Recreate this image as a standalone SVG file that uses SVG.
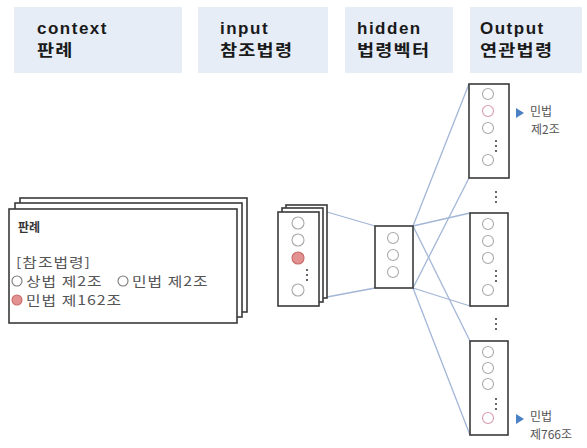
<svg xmlns="http://www.w3.org/2000/svg" width="587" height="448" viewBox="0 0 587 448">
<style>
.hdr{fill:#e6edf7}
.ht{font-family:"Liberation Sans","Noto Sans CJK KR",sans-serif;font-weight:bold;font-size:17px;fill:#1a1a1a;letter-spacing:1.5px}
.hk{font-family:"Noto Sans CJK KR",sans-serif;font-weight:bold;font-size:15.5px;fill:#1a1a1a;letter-spacing:1px}
.box{fill:#fff;stroke:#3a3a3a;stroke-width:1.6}
.nd{fill:#fff;stroke:#a9a9a9;stroke-width:1.1}
.nd2{fill:#fff;stroke:#7a7a7a;stroke-width:1.1}
.pk{fill:#fff;stroke:#d79bb0;stroke-width:1.1}
.red{fill:#e39191;stroke:#c86a6a;stroke-width:1.1}
.dot{fill:#444}
.con{stroke:#a3b6d6;stroke-width:1.3;fill:none}
.t{font-family:"Noto Sans CJK KR","Liberation Sans",sans-serif;fill:#555;font-size:13px;letter-spacing:0.8px}
.tb{font-family:"Noto Sans CJK KR","Liberation Sans",sans-serif;fill:#333;font-size:12px;font-weight:bold}
.lbl{font-family:"Noto Sans CJK KR","Liberation Sans",sans-serif;fill:#555;font-size:12px}
.tri{fill:#4a80c4}
</style>
<defs>
<g id="dots3"><circle class="dot" cx="0" cy="0" r="1.1"/><circle class="dot" cx="0" cy="5" r="1.1"/><circle class="dot" cx="0" cy="10" r="1.1"/></g>
</defs>

<g id="header-context"><rect class="hdr" x="14" y="7" width="168" height="66"/><text class="ht" x="37" y="34">context</text><text class="hk" transform="translate(37,56) scale(1.2,1)">판례</text></g>
<g id="header-input"><rect class="hdr" x="198" y="7" width="130" height="66"/><text class="ht" x="220" y="34">input</text><text class="hk" transform="translate(220,56) scale(1.2,1)">참조법령</text></g>
<g id="header-hidden"><rect class="hdr" x="345" y="7" width="108" height="66"/><text class="ht" x="357" y="34">hidden</text><text class="hk" transform="translate(357,56) scale(1.2,1)">법령벡터</text></g>
<g id="header-output"><rect class="hdr" x="470" y="7" width="112" height="66"/><text class="ht" x="480" y="34">Output</text><text class="hk" transform="translate(480,56) scale(1.2,1)">연관법령</text></g>

<g id="connectors">
<line class="con" x1="327" y1="212" x2="375" y2="226"/>
<line class="con" x1="327" y1="297" x2="375" y2="288"/>
<line class="con" x1="413" y1="226" x2="469" y2="84"/>
<line class="con" x1="413" y1="226" x2="470" y2="213"/>
<line class="con" x1="413" y1="226" x2="470" y2="341"/>
<line class="con" x1="413" y1="288" x2="469" y2="178"/>
<line class="con" x1="413" y1="288" x2="470" y2="306"/>
<line class="con" x1="413" y1="288" x2="470" y2="435"/>
</g>

<g id="context-card">
<rect class="box" x="20" y="198" width="227" height="114"/>
<rect class="box" x="15" y="203" width="227" height="114"/>
<rect class="box" x="9" y="209" width="228" height="114"/>
<text class="tb" x="18" y="232">판례</text>
<text class="t" transform="translate(16,267) scale(1.22,1)">[참조법령]</text>
<circle class="nd2" cx="17" cy="281" r="5"/>
<text class="t" transform="translate(26,286) scale(1.22,1)">상법 제2조</text>
<circle class="nd2" cx="123" cy="281" r="5"/>
<text class="t" transform="translate(132,286) scale(1.22,1)">민법 제2조</text>
<circle class="red" cx="17" cy="300" r="5"/>
<text class="t" transform="translate(26,305) scale(1.22,1)">민법 제162조</text>
</g>

<g id="input">
<rect class="box" x="286" y="205" width="41" height="93"/>
<rect class="box" x="282" y="208" width="41" height="94"/>
<rect class="box" x="278" y="212" width="41" height="94"/>
<circle class="nd" cx="298" cy="223" r="6"/>
<circle class="nd" cx="298" cy="240" r="6"/>
<circle class="red" cx="298" cy="258" r="6"/>
<use href="#dots3" x="307" y="270"/>
<circle class="nd" cx="298" cy="290" r="6"/>
</g>

<g id="hidden">
<rect class="box" x="375" y="226" width="38" height="62"/>
<circle class="nd" cx="393" cy="238" r="5.5"/>
<circle class="nd" cx="393" cy="255" r="5.5"/>
<circle class="nd" cx="393" cy="272" r="5.5"/>
</g>

<g id="output-top">
<rect class="box" x="469" y="84" width="40" height="94"/>
<circle class="nd" cx="488" cy="94" r="5.5"/>
<circle class="pk" cx="488" cy="111" r="5.5"/>
<circle class="nd" cx="488" cy="128" r="5.5"/>
<use href="#dots3" x="496" y="141"/>
<circle class="nd" cx="488" cy="160" r="5.5"/>
<polygon class="tri" points="516,108 524,113 516,118"/>
<text class="lbl" x="530" y="116">민법</text>
<text class="lbl" x="531" y="134">제2조</text>
</g>

<use href="#dots3" x="496" y="192"/>

<g id="output-middle">
<rect class="box" x="470" y="213" width="38" height="93"/>
<circle class="nd" cx="488" cy="224" r="5.5"/>
<circle class="nd" cx="488" cy="241" r="5.5"/>
<circle class="nd" cx="488" cy="258" r="5.5"/>
<use href="#dots3" x="496" y="271"/>
<circle class="nd" cx="488" cy="290" r="5.5"/>
</g>

<use href="#dots3" x="496" y="319"/>

<g id="output-bottom">
<rect class="box" x="470" y="341" width="38" height="94"/>
<circle class="nd" cx="488" cy="352" r="5.5"/>
<circle class="nd" cx="488" cy="368" r="5.5"/>
<circle class="nd" cx="488" cy="384" r="5.5"/>
<use href="#dots3" x="496" y="399"/>
<circle class="pk" cx="488" cy="418" r="5.5"/>
<polygon class="tri" points="516,414 524,419 516,424"/>
<text class="lbl" x="530" y="421">민법</text>
<text class="lbl" x="530" y="439">제766조</text>
</g>
</svg>
